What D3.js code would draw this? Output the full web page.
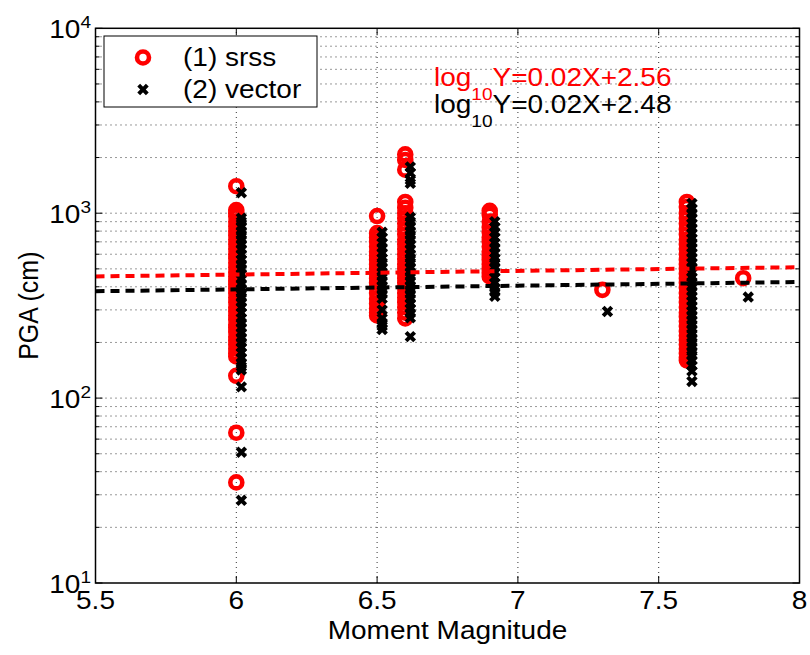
<!DOCTYPE html>
<html>
<head>
<meta charset="utf-8">
<script src="https://d3js.org/d3.v7.min.js"></script>
<style>
body { margin: 0; background: white; }
text { font-family: "Liberation Sans", Arial, sans-serif; fill: black; }
.grid line { stroke: #333; stroke-width: 1; stroke-dasharray: 1,4; }
</style>
</head>
<body>
<svg id="chart" width="810" height="655"></svg>
<script>
// event magnitudes (x position of each column)
var magnitudes = [6.0, 6.5, 6.6, 6.9, 7.3, 7.6, 7.8];
// vector markers are drawn a little to the right of the srss ones
var vectorShift = 0.018;

// PGA, one list per magnitude
var srssPGA = [
  [1400, 1040, 1000, 960, 900, 850, 800, 760, 720, 680, 640, 600, 570, 540, 510, 480, 455, 430, 410, 390, 370, 350, 330, 310, 295, 280, 265, 250, 240, 228, 215, 205, 195, 185, 175, 168, 132, 65, 35],
  [965, 780, 740, 700, 660, 620, 590, 560, 530, 500, 470, 445, 420, 395, 370, 345, 325, 305, 290, 280],
  [2080, 1940, 1720, 1150, 1070, 1000, 940, 880, 820, 770, 720, 680, 640, 600, 565, 530, 500, 470, 445, 420, 395, 370, 350, 330, 310, 290, 270],
  [1030, 980, 900, 840, 790, 740, 700, 660, 620, 590, 560, 530, 500, 475, 455],
  [385],
  [1150, 1080, 1000, 940, 880, 820, 770, 720, 680, 640, 600, 560, 530, 500, 470, 445, 420, 395, 370, 350, 330, 310, 290, 275, 260, 245, 230, 218, 206, 195, 185, 175, 166, 160],
  [445]
];
var vectorPGA = [
  [1290, 940, 900, 850, 800, 760, 720, 680, 640, 600, 560, 530, 500, 470, 440, 415, 390, 370, 350, 330, 310, 290, 270, 255, 240, 225, 212, 200, 188, 176, 165, 155, 148, 142, 115, 51, 28],
  [790, 740, 690, 650, 610, 570, 540, 510, 480, 455, 430, 405, 385, 365, 345, 300, 270, 255, 245, 235],
  [1780, 1650, 1510, 1450, 950, 900, 850, 800, 760, 720, 680, 640, 600, 570, 540, 510, 480, 455, 430, 405, 385, 365, 345, 325, 305, 288, 272, 215],
  [900, 840, 790, 740, 690, 650, 610, 570, 540, 510, 480, 450, 420, 395, 375, 355],
  [294],
  [1130, 1060, 1000, 940, 880, 830, 780, 730, 690, 650, 610, 575, 540, 510, 480, 450, 425, 400, 378, 356, 335, 315, 296, 280, 264, 250, 236, 223, 211, 200, 189, 179, 170, 160, 150, 140, 123],
  [352]
];

// fitted lines log10(Y) = a*X + b
var fitSlopes = [0.02, 0.02];
var fitIntercepts = [2.548, 2.468];
var fitColors = ["#ff0000", "#000000"];
var fitLabels = ["Y=0.02X+2.56", "Y=0.02X+2.48"];

var seriesNames = ["(1) srss", "(2) vector"];
var xTicks = [5.5, 6, 6.5, 7, 7.5, 8];
var yExponents = [1, 2, 3, 4];

var svg = d3.select("#chart");
var stretch = 1.12;   // text in the picture is a bit wider than normal

var x = d3.scaleLinear().domain([5.5, 8]).range([95.5, 799.5]);
var y = d3.scaleLog().domain([10, 10000]).range([583, 28.3]);

function wideText(px, py, anchor) {
  return svg.append("g")
    .attr("transform", "translate(" + px + "," + py + ") scale(" + stretch + ",1)")
    .append("text")
    .attr("text-anchor", anchor || "start");
}

// minor values for log grid
var minorVals = [];
yExponents.slice(0, 3).forEach(function(e) {
  for (var m = 2; m <= 9; m++) minorVals.push(m * Math.pow(10, e));
});
var majorVals = yExponents.map(function(e) { return Math.pow(10, e); });

// grid
var grid = svg.append("g").attr("class", "grid");
grid.selectAll(".gy")
  .data(minorVals.concat(majorVals.slice(1, 3)))
  .enter().append("line")
  .attr("x1", x(5.5)).attr("x2", x(8))
  .attr("y1", function(d) { return y(d); })
  .attr("y2", function(d) { return y(d); });
grid.selectAll(".gx")
  .data(xTicks.slice(1, 5))
  .enter().append("line")
  .attr("y1", y(10)).attr("y2", y(10000))
  .attr("x1", function(d) { return x(d); })
  .attr("x2", function(d) { return x(d); });

// ticks (inward, on all four sides)
var ticks = svg.append("g").attr("stroke", "black").attr("stroke-width", 1);
xTicks.forEach(function(d) {
  ticks.append("line").attr("x1", x(d)).attr("x2", x(d)).attr("y1", y(10)).attr("y2", y(10) - 7);
  ticks.append("line").attr("x1", x(d)).attr("x2", x(d)).attr("y1", y(10000)).attr("y2", y(10000) + 7);
});
majorVals.concat(minorVals).forEach(function(d, i) {
  var len = i < majorVals.length ? 7 : 4;
  ticks.append("line").attr("x1", x(5.5)).attr("x2", x(5.5) + len).attr("y1", y(d)).attr("y2", y(d));
  ticks.append("line").attr("x1", x(8)).attr("x2", x(8) - len).attr("y1", y(d)).attr("y2", y(d));
});

// markers
function srssPoints() {
  var pts = [];
  srssPGA.forEach(function(col, i) { col.forEach(function(v) { pts.push([magnitudes[i], v]); }); });
  return pts;
}
function vectorPoints() {
  var pts = [];
  vectorPGA.forEach(function(col, i) { col.forEach(function(v) { pts.push([magnitudes[i] + vectorShift, v]); }); });
  return pts;
}
var crossPath = "M-4.3,-4.3L4.3,4.3M-4.3,4.3L4.3,-4.3";

svg.append("g").selectAll("circle")
  .data(srssPoints())
  .enter().append("circle")
  .attr("cx", function(d) { return x(d[0]); })
  .attr("cy", function(d) { return y(d[1]); })
  .attr("r", 6)
  .attr("fill", "none")
  .attr("stroke", "#ff0000")
  .attr("stroke-width", 4.6);

svg.append("g").selectAll("path")
  .data(vectorPoints())
  .enter().append("path")
  .attr("transform", function(d) { return "translate(" + x(d[0]) + "," + y(d[1]) + ")"; })
  .attr("d", crossPath)
  .attr("stroke", "black")
  .attr("stroke-width", 4);

// fit lines
fitSlopes.forEach(function(a, i) {
  var b = fitIntercepts[i];
  var ends = [5.5, 8].map(function(m) { return [x(m), y(Math.pow(10, a * m + b))]; });
  svg.append("path")
    .attr("d", d3.line()(ends))
    .attr("stroke", fitColors[i])
    .attr("stroke-width", 4)
    .attr("stroke-dasharray", "9,6")
    .attr("fill", "none");
});

// axes box
svg.append("rect")
  .attr("x", x(5.5)).attr("y", y(10000))
  .attr("width", x(8) - x(5.5)).attr("height", y(10) - y(10000))
  .attr("fill", "none").attr("stroke", "black").attr("stroke-width", 1.5);

// tick labels
xTicks.forEach(function(d) {
  wideText(x(d), 609, "middle").style("font-size", "25px").text(d3.format("")(d));
});
yExponents.forEach(function(e) {
  var t = wideText(91, y(Math.pow(10, e)) + 10, "end").style("font-size", "25px");
  t.append("tspan").text("10");
  t.append("tspan").attr("dy", -10).style("font-size", "17px").text(e);
});

// axis titles
wideText(x(6.75), 639, "middle").style("font-size", "25px").text("Moment Magnitude");
svg.append("text")
  .attr("transform", "translate(38," + ((y(10) + y(10000)) / 2) + ") rotate(-90) scale(1,1.12)")
  .attr("text-anchor", "middle")
  .style("font-size", "25px")
  .text("PGA (cm)");

// equations
fitLabels.forEach(function(lab, i) {
  var t = wideText(434, 86 + i * 27, "start").style("font-size", "25px").style("fill", fitColors[i]);
  t.append("tspan").text("log");
  t.append("tspan").attr("dy", 14).style("font-size", "17px").text("10");
  t.append("tspan").attr("dy", -14).text(lab);
});

// legend
var lg = svg.append("g");
lg.append("rect")
  .attr("x", 104).attr("y", 36).attr("width", 213).attr("height", 71)
  .attr("fill", "white").attr("stroke", "black").attr("stroke-width", 1);
lg.append("circle")
  .attr("cx", 143).attr("cy", 57.5).attr("r", 6)
  .attr("fill", "none").attr("stroke", "#ff0000").attr("stroke-width", 4.6);
lg.append("path")
  .attr("transform", "translate(143,89.5)")
  .attr("d", crossPath)
  .attr("stroke", "black").attr("stroke-width", 4);
seriesNames.forEach(function(name, i) {
  wideText(183, 66 + i * 31.5, "start").style("font-size", "25px").text(name);
});
</script>
</body>
</html>
